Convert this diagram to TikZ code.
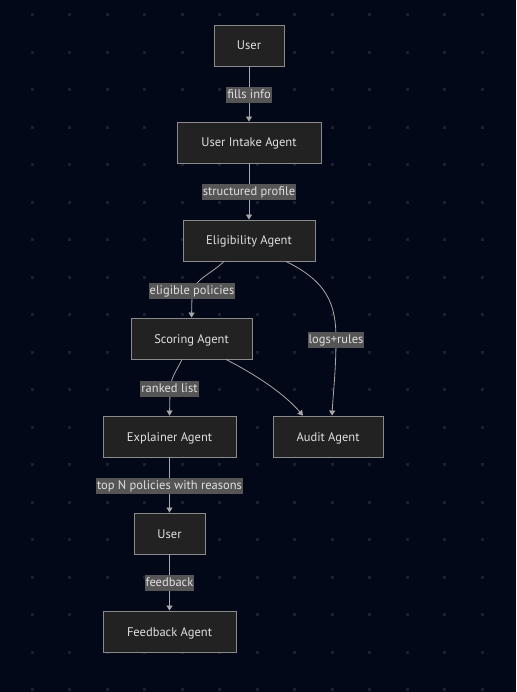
\documentclass[tikz,border=0pt]{standalone}
\usepackage{fontspec}
\setmainfont{PT Sans}
\usetikzlibrary{arrows.meta}
\definecolor{bgc}{HTML}{020817}
\definecolor{dotc}{HTML}{1A2030}
\definecolor{boxfill}{HTML}{222222}
\definecolor{boxline}{HTML}{8A8A8A}
\definecolor{edgec}{HTML}{A8A8A8}
\definecolor{lblfill}{HTML}{555555}
\definecolor{txtc}{HTML}{E0E0E0}
\tikzset{
  agent/.style={draw=boxline, line width=0.9pt, fill=boxfill, text=txtc,
    minimum height=41pt, inner xsep=0pt, text height=9pt, text depth=0pt,
    font=\fontsize{12.5}{14}\selectfont},
  flow/.style={draw=edgec, line width=0.8pt,
    -{Triangle[length=5pt,width=6pt]}},
  tag/.style={fill=lblfill, text=txtc, inner xsep=1pt, inner ysep=2.5pt,
    text height=9pt, text depth=2pt, font=\fontsize{12.5}{14}\selectfont},
}
\begin{document}
\begin{tikzpicture}[x=1pt,y=-1pt]
\fill[bgc] (0,0) rectangle (516,692);
\useasboundingbox (0,0) rectangle (516,692);
% background dot grid
\foreach \i in {0,...,13}{
  \foreach \j in {0,...,18}{
    \fill[dotc] ({32+37.5*\i-1.5},{14.7+37.5*\j-1.5}) rectangle +(3,3);
  }
}
% agents
\node[agent, minimum width=70pt]  (user)   at (249,45.5)  {User};
\node[agent, minimum width=144pt] (intake) at (249,142.5) {User Intake Agent};
\node[agent, minimum width=132pt] (elig)   at (249,240.5) {Eligibility Agent};
\node[agent, minimum width=121pt] (score)  at (191.5,338.5) {Scoring Agent};
\node[agent, minimum width=133pt] (expl)   at (169.5,436.5) {Explainer Agent};
\node[agent, minimum width=110pt] (audit)  at (328,436.5) {Audit Agent};
\node[agent, minimum width=71pt]  (user2)  at (169.5,533.5) {User};
\node[agent, minimum width=133pt] (fback)  at (169.5,631.5) {Feedback Agent};
% connectors
\draw[flow] (user) -- (intake);
\draw[flow] (intake) -- (elig);
\draw[flow] ([xshift=-25pt]elig.south) .. controls (210,275) and (192,280) .. (192,296) -- (score.north);
\draw[flow] ([xshift=37pt]elig.south) .. controls (328,282) and (336,305) .. (336,339)
  .. controls (336,370) and (333,395) .. ([xshift=4pt]audit.north);
\draw[flow] ([xshift=-9.5pt]score.south) .. controls (176,372) and (170,378) .. (170,392) -- (expl.north);
\draw[flow] ([xshift=34.5pt]score.south) .. controls (262,378) and (286,396) .. ([xshift=-25pt]audit.north);
\draw[flow] (expl) -- (user2);
\draw[flow] (user2) -- (fback);
% edge labels
\node[tag] (l1) at (249,95) {fills info};
\node[tag] (l2) at (249,192) {structured profile};
\node[tag] (l3) at (192,291) {eligible policies};
\node[tag] (l4) at (336,340) {logs+rules};
\node[tag] (l5) at (169.5,389) {ranked list};
\node[tag] (l6) at (169.5,486) {top N policies with reasons};
\node[tag] (l7) at (169.5,583) {feedback};
\end{tikzpicture}
\end{document}
